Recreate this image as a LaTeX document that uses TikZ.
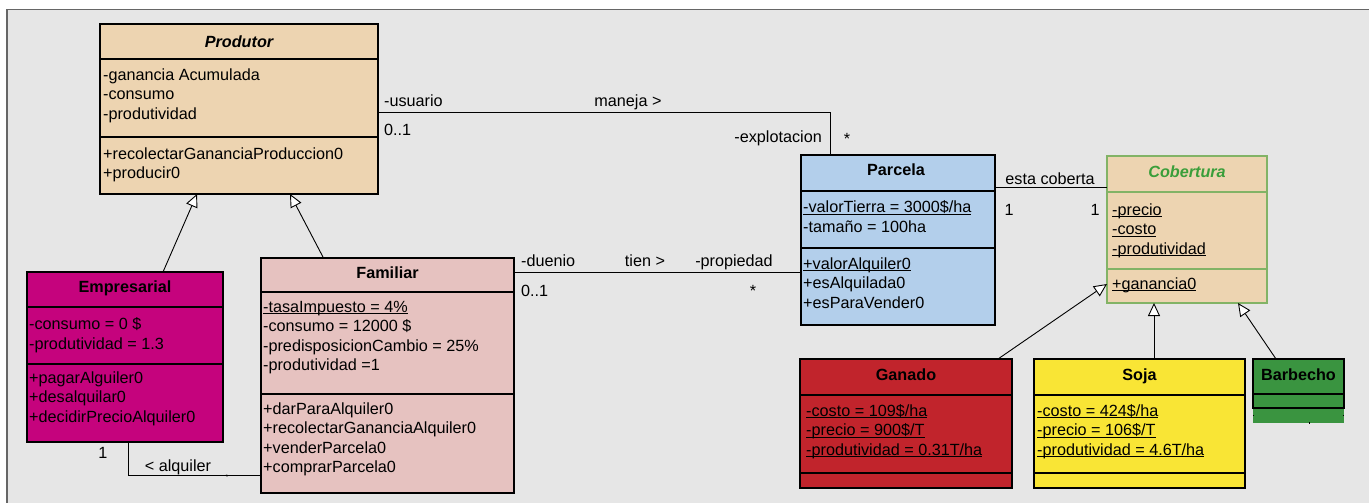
\documentclass[tikz,border=0pt]{standalone}
\usepackage{fontspec}
\setmainfont{Liberation Sans}
\usetikzlibrary{arrows.meta}
\definecolor{bgfill}{HTML}{E6E6E6}
\definecolor{bgdraw}{HTML}{666666}
\definecolor{tanfill}{HTML}{EDD4B1}
\definecolor{magfill}{HTML}{C5037D}
\definecolor{pinkfill}{HTML}{E6C2C0}
\definecolor{bluefill}{HTML}{B3CFEB}
\definecolor{redfill}{HTML}{C1242C}
\definecolor{yelfill}{HTML}{F9E535}
\definecolor{grnfill}{HTML}{3A9440}
\definecolor{cobstroke}{HTML}{82B366}
\definecolor{cobtitle}{HTML}{3A9E3A}
\newcommand\mystrut{\rule{0pt}{13pt}}
\newcommand\myul[1]{\setbox0\hbox{#1}\rlap{\rule[-2.2pt]{\wd0}{0.9pt}}\box0}
\begin{document}
\begin{tikzpicture}[x=1pt,y=-1pt,
  cls/.style={draw=black,line width=1.1pt,inner sep=0pt,outer sep=0pt,anchor=north west},
  sepline/.style={draw=black,line width=1.1pt},
  ttl/.style={inner sep=0pt,anchor=base,font=\fontsize{16.2}{19.5}\selectfont\bfseries},
  lines/.style={inner sep=0pt,anchor=north west,align=left,font=\fontsize{16.2}{19.5}\selectfont},
  lbl/.style={inner sep=0pt,font=\fontsize{16.2}{19.5}\selectfont},
  conn/.style={draw=black,line width=0.9pt},
  gen/.style={draw=black,line width=0.9pt,-{Triangle[fill=white,length=13pt,width=12pt,line width=0.9pt]}}]
\useasboundingbox (0,0) rectangle (1369,503);
% background
\fill[bgfill] (7,9.5) rectangle (1380,515);
\draw[bgdraw,line width=1.3pt] (7,515) -- (7,9.5) -- (1380,9.5);

% Produtor
\node[cls,fill=tanfill,minimum width=278pt,minimum height=170pt] (produtor) at (100,24) {};
\draw[sepline] (produtor.west |- 0,59) -- (produtor.east |- 0,59);
\draw[sepline] (produtor.west |- 0,137) -- (produtor.east |- 0,137);
\node[ttl,font=\fontsize{16.2}{19.5}\selectfont\bfseries\itshape] (produtor-t) at (239,47.8) {Produtor};
\node[lines] (produtor-a) at (103,66.8) {\mystrut-ganancia Acumulada\\-consumo\\-produtividad};
\node[lines] (produtor-m) at (103,145.8) {\mystrut+recolectarGananciaProduccion0\\+producir0};

% Empresarial
\node[cls,fill=magfill,minimum width=196pt,minimum height=170pt] (empresarial) at (27,272) {};
\draw[sepline] (empresarial.west |- 0,307) -- (empresarial.east |- 0,307);
\draw[sepline] (empresarial.west |- 0,364) -- (empresarial.east |- 0,364);
\node[ttl] (empresarial-t) at (125,292.8) {Empresarial};
\node[lines] (empresarial-a) at (29,316.3) {\mystrut-consumo = 0 \$\\-produtividad = 1.3};
\node[lines] (empresarial-m) at (29,370) {\mystrut+pagarAlguiler0\\+desalquilar0\\+decidirPrecioAlquiler0};

% Familiar
\node[cls,fill=pinkfill,minimum width=253pt,minimum height=235pt] (familiar) at (261,258) {};
\draw[sepline] (familiar.west |- 0,292) -- (familiar.east |- 0,292);
\draw[sepline] (familiar.west |- 0,394) -- (familiar.east |- 0,394);
\node[ttl] (familiar-t) at (387.5,278.8) {Familiar};
\node[lines] (familiar-a) at (263,298.8) {\mystrut\myul{-tasaImpuesto = 4\%}\\-consumo = 12000 \$\\-predisposicionCambio = 25\%\\-produtividad =1};
\node[lines] (familiar-m) at (263,400.8) {\mystrut+darParaAlquiler0\\+recolectarGananciaAlquiler0\\+venderParcela0\\+comprarParcela0};

% Parcela
\node[cls,fill=bluefill,minimum width=194pt,minimum height=170pt] (parcela) at (801,155) {};
\draw[sepline] (parcela.west |- 0,191) -- (parcela.east |- 0,191);
\draw[sepline] (parcela.west |- 0,248) -- (parcela.east |- 0,248);
\node[ttl] (parcela-t) at (896,175.8) {Parcela};
\node[lines] (parcela-a) at (803,199.3) {\mystrut\myul{-valorTierra = 3000\$/ha}\\-tamaño = 100ha};
\node[lines] (parcela-m) at (803,255.8) {\mystrut\myul{+valorAlquiler0}\\+esAlquilada0\\+esParaVender0};

% Cobertura
\node[cls,draw=cobstroke,fill=tanfill,minimum width=160pt,minimum height=147pt] (cobertura) at (1107,156) {};
\draw[sepline,draw=cobstroke] (cobertura.west |- 0,192) -- (cobertura.east |- 0,192);
\draw[sepline,draw=cobstroke] (cobertura.west |- 0,269) -- (cobertura.east |- 0,269);
\node[ttl,text=cobtitle,font=\fontsize{16.2}{19.5}\selectfont\bfseries\itshape] (cobertura-t) at (1187,177.8) {Cobertura};
\node[lines] (cobertura-a) at (1112,201.8) {\mystrut\myul{-precio}\\\myul{-costo}\\\myul{-produtividad}};
\node[lines] (cobertura-m) at (1112,275.8) {\mystrut\myul{+ganancia0}};

% Ganado
\node[cls,fill=redfill,minimum width=212pt,minimum height=129pt] (ganado) at (800,359) {};
\draw[sepline] (ganado.west |- 0,395) -- (ganado.east |- 0,395);
\draw[sepline] (ganado.west |- 0,473) -- (ganado.east |- 0,473);
\node[ttl] (ganado-t) at (906,380.8) {Ganado};
\node[lines] (ganado-a) at (806,402.8) {\mystrut\myul{-costo = 109\$/ha}\\\myul{-precio = 900\$/T}\\\myul{-produtividad = 0.31T/ha}};

% Soja
\node[cls,fill=yelfill,minimum width=211pt,minimum height=129pt] (soja) at (1034,359) {};
\draw[sepline] (soja.west |- 0,395) -- (soja.east |- 0,395);
\draw[sepline] (soja.west |- 0,473) -- (soja.east |- 0,473);
\node[ttl] (soja-t) at (1139.5,380.8) {Soja};
\node[lines] (soja-a) at (1037,402.8) {\mystrut\myul{-costo = 424\$/ha}\\\myul{-precio = 106\$/T}\\\myul{-produtividad = 4.6T/ha}};

% Barbecho
\node[inner sep=0pt,outer sep=0pt,anchor=north west,fill=grnfill,minimum width=91pt,minimum height=64pt] (barbecho) at (1253,359) {};
\draw[sepline] (barbecho.west |- 0,408) -- (barbecho.north west) -- (barbecho.north east) -- (barbecho.east |- 0,408) -- cycle;
\draw[sepline] (barbecho.west |- 0,394) -- (barbecho.east |- 0,394);
\node[ttl] (barbecho-t) at (1298.5,380.8) {Barbecho};
\fill[black] (1308.5,422) rectangle (1309.5,423.5);
\fill[black] (1253,414.5) rectangle (1254,415.5);
\fill[black] (1343,414.5) rectangle (1344,415.5);

% associations
\draw[conn] (produtor.east |- 0,112) -| ([xshift=29pt]parcela.north west);
\node[lbl,anchor=base west] (usuario) at (384,106.8) {-usuario};
\node[lbl,anchor=base] (maneja) at (628,106.8) {maneja >};
\node[lbl,anchor=base west] (usuario-m) at (384,135.8) {0..1};
\node[lbl,anchor=base east] (explotacion) at (822,142.8) {-explotacion};
\node[lbl,anchor=base] (explotacion-m) at (847,144) {*};

\draw[conn] (familiar.east |- 0,272) -- (parcela.west |- 0,272);
\node[lbl,anchor=base west] (duenio) at (521,266.8) {-duenio};
\node[lbl,anchor=base] (tien) at (645,266.8) {tien >};
\node[lbl,anchor=base] (propiedad) at (734,266.8) {-propiedad};
\node[lbl,anchor=base west] (duenio-m) at (521,296.8) {0..1};
\node[lbl,anchor=base] (propiedad-m) at (753,296) {*};

\draw[conn] (parcela.east |- 0,187) -- (cobertura.west |- 0,187);
\node[lbl,anchor=base] (coberta) at (1050,184.8) {esta coberta};
\node[lbl,anchor=base] (coberta-m1) at (1009,215.8) {1};
\node[lbl,anchor=base] (coberta-m2) at (1095,215.8) {1};

\draw[conn] (empresarial.south -| 128,0) |- (familiar.west |- 0,475);
\node[lbl,anchor=base] (alq-m1) at (103,458.8) {1};
\node[lbl,anchor=base] (alquiler) at (178,471.8) {< alquiler};
\node[inner sep=0pt,font=\fontsize{7}{8}\selectfont] (alq-m2) at (227,477) {*};

% generalizations
\draw[gen] (empresarial.north -| 163,0) -- (produtor.south -| 197,0);
\draw[gen] (familiar.north -| 323.5,0) -- (produtor.south -| 290,0);
\draw[gen] (ganado.north -| 998,0) -- (cobertura.west |- 0,284);
\draw[gen] (soja.north -| 1154,0) -- (cobertura.south -| 1154,0);
\draw[gen] (barbecho.north -| 1276,0) -- (cobertura.south -| 1238,0);
\end{tikzpicture}
\end{document}
